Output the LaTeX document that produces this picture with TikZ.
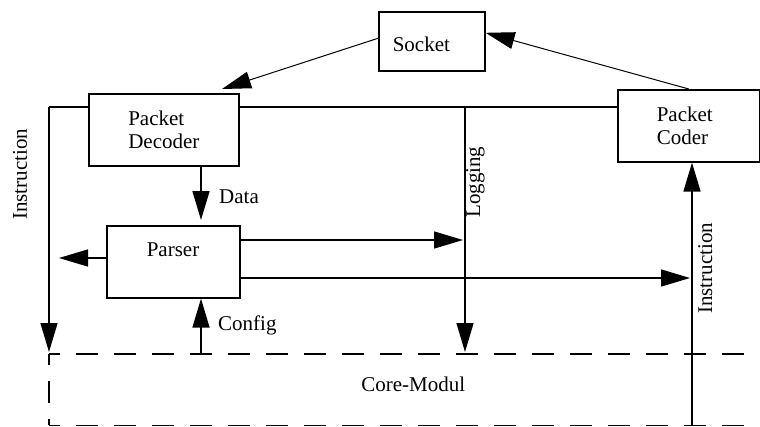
\documentclass[tikz,border=0pt]{standalone}
\usepackage{fontspec}
\setmainfont{Liberation Serif}
\usetikzlibrary{arrows.meta}
\tikzset{
    block/.style={draw, rectangle, line width=1.6pt, align=left, anchor=north west, inner ysep=0pt, minimum height=72pt},
    link/.style={line width=1.5pt},
    flow/.style={line width=1.5pt, -{Triangle[length=29pt,width=17pt]}},
    feed/.style={line width=1pt, -{Triangle[length=29pt,width=17pt]}},
    coreline/.style={line width=1.6pt, dash pattern=on 22pt off 16pt, dash phase=11pt},
    tag/.style={inner sep=0pt},
}
\begin{document}
\begin{tikzpicture}[x=1pt, y=-1pt, font=\fontsize{21}{23.5}\selectfont]
    \useasboundingbox (0,0) rectangle (760,426);
    \clip (0,0) rectangle (760,426);
    % blocks
    \node[block, minimum height=59pt, text width=78pt, inner xsep=14pt, text height=20pt] (sock) at (378,11) {Socket};
    \node[block, text width=71pt, inner xsep=39.5pt] (dec) at (88,93) {Packet\\Decoder};
    \node[block, text width=64pt, inner xsep=39pt] (coder) at (617,89) {Packet\\Coder};
    \node[block, text width=53pt, inner xsep=40pt] (par) at (106,225) {Parser\\~};
    \node[anchor=north west, minimum width=728pt, minimum height=71pt, text depth=10pt] (core) at (49,354) {Core-Modul};
    \draw[coreline] (core.north west) -- (core.north east);
    \draw[coreline] (core.north west) -- (core.south west);
    \draw[coreline] (core.south west) -- (core.south east);
    % junctions
    \coordinate (iL) at (49,107);
    \coordinate (lg) at (465,107);
    \coordinate (iR) at (692,0);
    \coordinate (dx) at (201,0);
    \coordinate (r1) at (0,240);
    \coordinate (r2) at (0,278);
    \coordinate (pl) at (59,258);
    \coordinate (sd) at (222,89);
    % connectors
    \draw[feed] ([yshift=3pt]sock.west) -- (sd);
    \draw[feed] (coder.north) -- ([yshift=8.5pt]sock.east);
    \draw[link] (iL) -- (iL -| dec.west);
    \draw[link] (iL -| dec.east) -- (iL -| coder.west);
    \draw[flow, shorten >=2pt] (iL) -- (iL |- core.north);
    \draw[flow, shorten >=2pt] (lg) -- (lg |- core.north);
    \draw[flow, shorten >=5pt] (dec.south -| dx) -- (par.north -| dx);
    \draw[flow] (core.north -| dx) -- (par.south -| dx);
    \draw[flow] (par.west |- pl) -- (pl);
    \draw[flow, shorten >=2pt] (par.east |- r1) -- (lg |- r1);
    \draw[flow, shorten >=2pt] (par.east |- r2) -- (iR |- r2);
    \draw[flow] (core.south -| iR) -- (coder.south -| iR);
    % labels
    \node[tag, anchor=base west] (lData) at (219,203) {Data};
    \node[tag, anchor=base west] (lConfig) at (218,330) {Config};
    \node[tag, rotate=90, anchor=base west] (lLog) at (480,218) {Logging};
    \node[tag, rotate=90, anchor=base west] (lInL) at (27,220) {Instruction};
    \node[tag, rotate=90, anchor=base west] (lInR) at (712,314) {Instruction};
\end{tikzpicture}
\end{document}
